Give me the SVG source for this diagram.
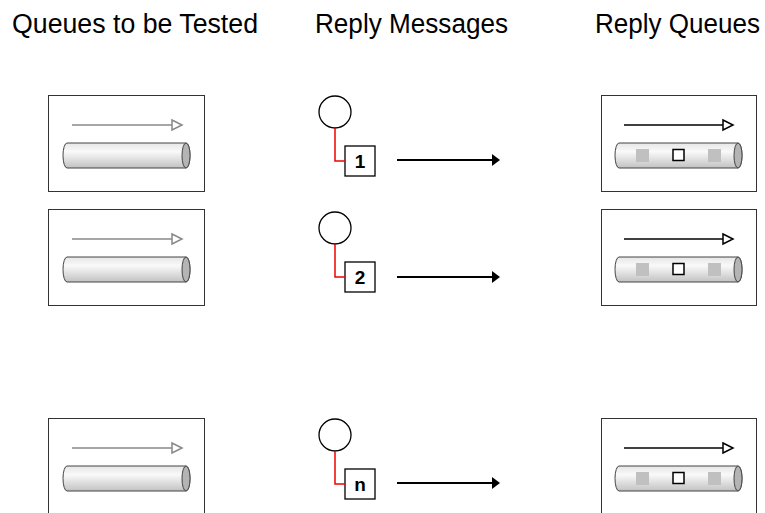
<svg xmlns="http://www.w3.org/2000/svg" width="765" height="513" viewBox="0 0 765 513">
<style>
.title{font-family:"Liberation Sans",Arial,sans-serif;font-size:27px;fill:#000}
.qbox{fill:#fff;stroke:#333;stroke-width:1}
.cyl{fill:url(#cg);stroke:#444;stroke-width:1}
.cylend{fill:#b4b4b4;stroke:#444;stroke-width:1}
.garrow{stroke:#888;stroke-width:1.5;fill:none}
.garrowhead{fill:#fff;stroke:#888;stroke-width:1.5}
.barrow{stroke:#000;stroke-width:1.5;fill:none}
.barrowhead{fill:#fff;stroke:#000;stroke-width:1.5}
.gsq{fill:#c0c0c0}
.wsq{fill:#fff;stroke:#000;stroke-width:1.5}
.circ{fill:#fff;stroke:#000;stroke-width:1.3}
.mbox{fill:#fff;stroke:#000;stroke-width:1.3}
.mtext{font-family:"Liberation Sans",Arial,sans-serif;font-size:19px;font-weight:bold;text-anchor:middle}
.red{stroke:#e00;stroke-width:1.5;fill:none}
.marrow{stroke:#000;stroke-width:2;fill:none}
</style>
<defs>
<linearGradient id="cg" x1="0" y1="0" x2="0" y2="1">
<stop offset="0" stop-color="#e6e6e6"/>
<stop offset="0.35" stop-color="#f9f9f9"/>
<stop offset="1" stop-color="#c2c2c2"/>
</linearGradient>
<g id="lq">
<rect class="qbox" x="48.5" y="95.5" width="156" height="96"/>
<line class="garrow" x1="72" y1="125" x2="172" y2="125"/>
<polygon class="garrowhead" points="172,120 182,125 172,130"/>
<path class="cyl" d="M67,143 H186 A4,12.5 0 0 1 186,168 H67 A4,12.5 0 0 1 67,143 Z"/>
<ellipse class="cylend" cx="186" cy="155.5" rx="4" ry="12.5"/>
</g>
<g id="rq">
<rect class="qbox" x="601.5" y="95.5" width="155" height="96"/>
<line class="barrow" x1="624" y1="125" x2="723" y2="125"/>
<polygon class="barrowhead" points="723,120 733,125 723,130"/>
<path class="cyl" d="M619,143 H738 A4,12.5 0 0 1 738,168 H619 A4,12.5 0 0 1 619,143 Z"/>
<ellipse class="cylend" cx="738" cy="155.5" rx="4" ry="12.5"/>
<rect class="gsq" x="636" y="149" width="13" height="13"/>
<rect class="wsq" x="673" y="149.5" width="11" height="11"/>
<rect class="gsq" x="708" y="149" width="13" height="13"/>
</g>
</defs>
<g id="titles">
<text class="title" x="12" y="33" textLength="246" lengthAdjust="spacingAndGlyphs">Queues to be Tested</text>
<text class="title" x="315" y="33" textLength="193" lengthAdjust="spacingAndGlyphs">Reply Messages</text>
<text class="title" x="595" y="33" textLength="165" lengthAdjust="spacingAndGlyphs">Reply Queues</text>
</g>
<g id="queue-tested-1"><use href="#lq"/></g>
<g id="queue-tested-2" transform="translate(0,114)"><use href="#lq"/></g>
<g id="queue-tested-n" transform="translate(0,323)"><use href="#lq"/></g>
<g id="reply-queue-1"><use href="#rq"/></g>
<g id="reply-queue-2" transform="translate(0,114)"><use href="#rq"/></g>
<g id="reply-queue-n" transform="translate(0,323)"><use href="#rq"/></g>
<g id="message-1">
<circle class="circ" cx="335" cy="112" r="16"/>
<rect class="mbox" x="345" y="146" width="30" height="30"/>
<text class="mtext" x="360" y="168">1</text>
</g>
<g id="message-2" transform="translate(0,116)">
<circle class="circ" cx="335" cy="112" r="16"/>
<rect class="mbox" x="345" y="146" width="30" height="30"/>
<text class="mtext" x="360" y="168">2</text>
</g>
<g id="message-n" transform="translate(0,323)">
<circle class="circ" cx="335" cy="112" r="16"/>
<rect class="mbox" x="345" y="146" width="30" height="30"/>
<text class="mtext" x="360" y="168">n</text>
</g>
<g id="connectors">
<polyline class="red" points="335,128 335,161 345,161"/>
<polyline class="red" points="335,244 335,277 345,277"/>
<polyline class="red" points="335,451 335,484 345,484"/>
<line class="marrow" x1="397" y1="160" x2="493" y2="160"/>
<polygon points="492,154 500,160 492,166" fill="#000"/>
<line class="marrow" x1="397" y1="277" x2="493" y2="277"/>
<polygon points="492,271 500,277 492,283" fill="#000"/>
<line class="marrow" x1="397" y1="483" x2="493" y2="483"/>
<polygon points="492,477 500,483 492,489" fill="#000"/>
</g>
</svg>
